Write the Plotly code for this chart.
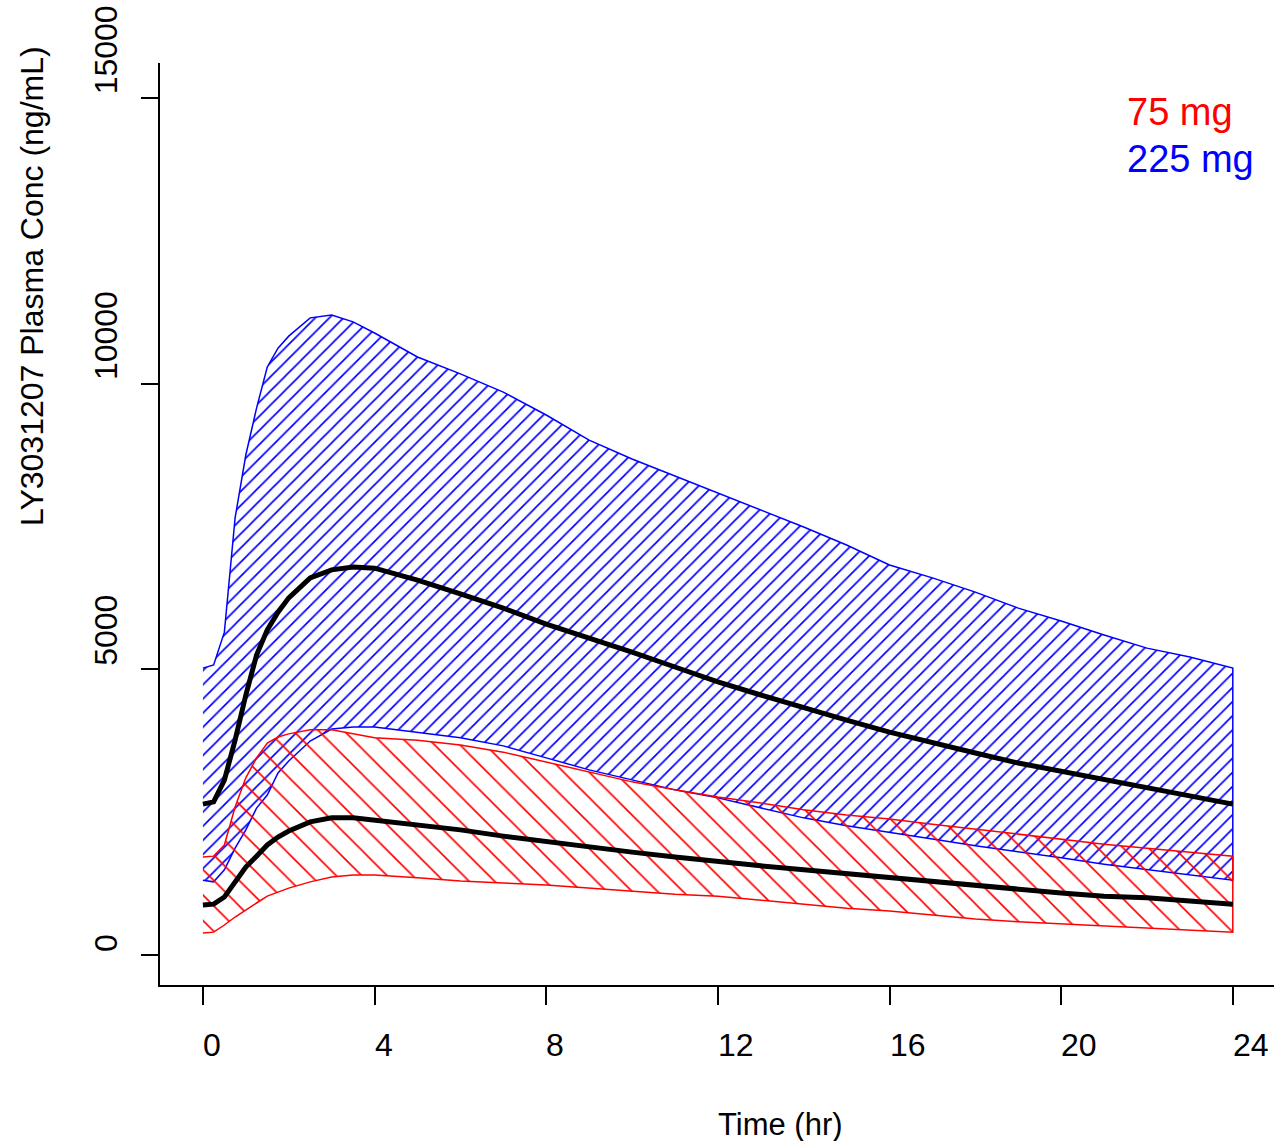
import plotly.graph_objects as go

# ---------------- data ----------------
times = [0, 0.25, 0.5, 0.75, 1, 1.25, 1.5, 1.75, 2, 2.5, 3, 3.5, 4, 5, 6, 7, 8, 9,
         10, 11, 12, 13, 14, 15, 16, 17, 18, 19, 20, 21, 22, 23, 24]

# 225 mg: prediction interval and median
upper_225 = [5020, 5075, 5650, 7650, 8750, 9570, 10290, 10620, 10830, 11150, 11200, 11080,
             10885, 10465, 10170, 9850, 9450, 9010, 8680, 8380, 8085, 7790, 7490, 7175,
             6825, 6600, 6350, 6070, 5845, 5600, 5370, 5215, 5020]
lower_225 = [1310, 1280, 1490, 1870, 2190, 2570, 2800, 3185, 3395, 3745, 3955, 3990,
             3990, 3900, 3800, 3660, 3450, 3240, 3060, 2890, 2750, 2570, 2400, 2260,
             2150, 2030, 1910, 1800, 1700, 1590, 1490, 1400, 1310]
median_225 = [2640, 2680, 3060, 3760, 4550, 5250, 5690, 6000, 6250, 6600, 6740, 6790,
              6770, 6560, 6320, 6070, 5790, 5550, 5300, 5040, 4780, 4550, 4320, 4110,
              3900, 3710, 3535, 3360, 3220, 3080, 2920, 2780, 2640]

# 75 mg: prediction interval and median
upper_75 = [1715, 1730, 1925, 2590, 3100, 3450, 3710, 3815, 3870, 3940, 3940, 3870,
            3800, 3760, 3675, 3550, 3380, 3200, 3030, 2890, 2765, 2660, 2540, 2450,
            2380, 2290, 2205, 2120, 2030, 1940, 1870, 1800, 1730]
lower_75 = [385, 400, 525, 665, 790, 910, 1030, 1100, 1170, 1280, 1365, 1400,
            1400, 1350, 1295, 1260, 1225, 1170, 1120, 1065, 1030, 960, 890, 820,
            770, 700, 630, 580, 540, 505, 470, 435, 400]
median_75 = [875, 890, 1015, 1280, 1540, 1730, 1925, 2065, 2170, 2330, 2400, 2400,
             2360, 2275, 2190, 2080, 1980, 1890, 1800, 1715, 1630, 1560, 1490, 1420,
             1350, 1280, 1210, 1155, 1085, 1030, 1000, 945, 890]

x_ticks = [0, 4, 8, 12, 16, 20, 24]
y_ticks = [0, 5000, 10000, 15000]
dose_labels = ["75 mg", "225 mg"]
x_title = "Time (hr)"
y_title = "LY3031207 Plasma Conc (ng/mL)"

# ---------------- styles ----------------
FONT = "Liberation Sans, Arial, Helvetica, sans-serif"
FS = 32
LEG_FS = 38
BLUE = "#0000FF"
RED = "#FF0000"

fig = go.Figure()

# 225 mg band (hatched '/')
fig.add_trace(go.Scatter(
    x=times + times[::-1], y=upper_225 + lower_225[::-1],
    mode="lines", fill="toself", fillcolor="rgba(0,0,0,0)",
    line=dict(color=BLUE, width=1.5),
    fillpattern=dict(shape="/", size=10, solidity=0.17, fgcolor=BLUE,
                     bgcolor="rgba(0,0,0,0)", fillmode="replace"),
    hoverinfo="skip", showlegend=False))

# 75 mg band (hatched '\')
fig.add_trace(go.Scatter(
    x=times + times[::-1], y=upper_75 + lower_75[::-1],
    mode="lines", fill="toself", fillcolor="rgba(0,0,0,0)",
    line=dict(color=RED, width=1.5),
    fillpattern=dict(shape="\\", size=18, solidity=0.09, fgcolor=RED,
                     bgcolor="rgba(0,0,0,0)", fillmode="replace"),
    hoverinfo="skip", showlegend=False))

# medians
for med in (median_225, median_75):
    fig.add_trace(go.Scatter(x=times, y=med, mode="lines",
                             line=dict(color="black", width=5),
                             hoverinfo="skip", showlegend=False))

annotations = []
# x tick labels (left-aligned at tick)
for t in x_ticks:
    annotations.append(dict(x=t, xref="x", y=0, yref="paper", text=str(t),
                            xanchor="left", yanchor="middle", yshift=-60, xshift=-2,
                            showarrow=False, font=dict(family=FONT, size=FS, color="black")))
# y tick labels (rotated, starting at tick)
for v in y_ticks:
    annotations.append(dict(x=0, xref="paper", y=v, yref="y", text=str(v),
                            textangle=-90, xanchor="center", yanchor="bottom",
                            xshift=-54, yshift=1,
                            showarrow=False, font=dict(family=FONT, size=FS, color="black")))
# axis titles
annotations.append(dict(x=0.5, xref="paper", y=0, yref="paper", text=x_title,
                        xanchor="left", yanchor="middle", yshift=-139, xshift=-1,
                        showarrow=False, font=dict(family=FONT, size=31, color="black")))
annotations.append(dict(x=0, xref="paper", y=0.5, yref="paper", text=y_title,
                        textangle=-90, xanchor="center", yanchor="bottom",
                        xshift=-128, yshift=-4,
                        showarrow=False, font=dict(family=FONT, size=FS, color="black")))
# legend text
annotations.append(dict(x=0.869, xref="paper", y=0.9469, yref="paper", text=dose_labels[0],
                        xanchor="left", yanchor="middle", xshift=-3, showarrow=False,
                        font=dict(family=FONT, size=LEG_FS, color=RED)))
annotations.append(dict(x=0.869, xref="paper", y=0.8959, yref="paper", text=dose_labels[1],
                        xanchor="left", yanchor="middle", xshift=-3, showarrow=False,
                        font=dict(family=FONT, size=LEG_FS, color=BLUE)))

fig.update_layout(
    width=1274, height=1141,
    margin=dict(l=160, r=0, t=63, b=156),
    paper_bgcolor="white", plot_bgcolor="white",
    showlegend=False,
    font=dict(family=FONT, size=FS, color="black"),
    annotations=annotations,
)
fig.update_xaxes(range=[-1.0, 24.96], tickvals=x_ticks, showticklabels=False,
                 ticks="outside", ticklen=18, tickwidth=1.6, tickcolor="black",
                 showline=True, linecolor="black", linewidth=1.6,
                 showgrid=False, zeroline=False)
fig.update_yaxes(range=[-525, 15610], tickvals=y_ticks, showticklabels=False,
                 ticks="outside", ticklen=17, tickwidth=1.6, tickcolor="black",
                 showline=True, linecolor="black", linewidth=1.6,
                 showgrid=False, zeroline=False)

fig.write_html("out.html", config={"displayModeBar": False},
               post_script="document.body.style.margin='0px';document.body.style.overflow='hidden';")
